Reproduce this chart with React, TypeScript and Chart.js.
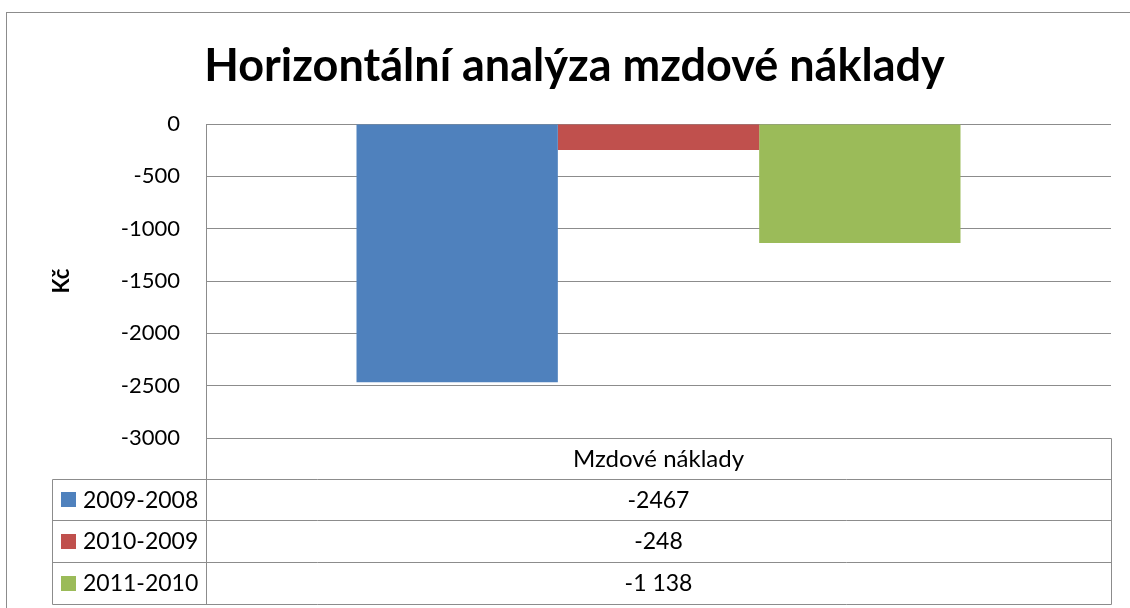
import React, { useEffect, useRef } from 'react';
import { Chart, registerables } from 'chart.js';

Chart.register(...registerables);

const categories = ['Mzdové náklady'];
const seriesNames = ['2009-2008', '2010-2009', '2011-2010'];
const seriesValues = [-2467, -248, -1138];
const tableLabels = ['-2467', '-248', '-1 138'];
const seriesColors = ['#4F81BD', '#C0504D', '#9BBB59'];
const yMin = -3000;
const yMax = 0;
const yStep = 500;
const chartTitle = 'Horizontální analýza mzdové náklady';
const yTitle = 'Kč';

const FONT = 'Lato';
const LINE = '#8c8c8c';
const PAD_LEFT = 38;
const PLOT_LEFT = 206;

const tablePlugin = {
  id: 'dataTable',
  beforeDraw(chart: any) {
    const ctx = chart.ctx;
    ctx.save();
    ctx.strokeStyle = LINE;
    ctx.lineWidth = 1;
    ctx.strokeRect(6.5, 12.5, chart.width + 100, chart.height + 100);
    ctx.restore();
  },
  afterDraw(chart: any) {
    const { ctx, chartArea } = chart;
    const xs = chart.scales.x;
    const left = Math.round(chartArea.left) + 0.5;
    const right = Math.round(chartArea.right) + 0.5;
    const top = Math.round(chartArea.bottom) + 0.5;
    const headerH = 40;
    const rowH = 41.7;
    const legendLeft = 52.5;
    const rowsTop = top + headerH;
    const bottom = Math.round(rowsTop + rowH * seriesNames.length) + 0.5;
    ctx.save();
    ctx.strokeStyle = LINE;
    ctx.lineWidth = 1;
    ctx.beginPath();
    ctx.moveTo(left, top);
    ctx.lineTo(left, bottom);
    ctx.moveTo(right, top);
    ctx.lineTo(right, bottom);
    ctx.moveTo(left, top);
    ctx.lineTo(right, top);
    ctx.moveTo(legendLeft, Math.round(rowsTop) + 0.5);
    ctx.lineTo(legendLeft, bottom);
    for (let i = 0; i <= seriesNames.length; i++) {
      const y = Math.round(rowsTop + rowH * i) + 0.5;
      ctx.moveTo(legendLeft, y);
      ctx.lineTo(right, y);
    }
    ctx.stroke();

    ctx.fillStyle = '#000';
    ctx.textBaseline = 'middle';
    ctx.textAlign = 'center';
    const cx = xs.getPixelForValue(0);
    ctx.font = `24px ${FONT}`;
    ctx.fillText(categories[0], cx, top + headerH / 2 + 1);
    ctx.font = `23px ${FONT}`;
    for (let i = 0; i < seriesNames.length; i++) {
      const cy = rowsTop + rowH * i + rowH / 2 + 1;
      ctx.textAlign = 'center';
      ctx.fillStyle = '#000';
      ctx.fillText(tableLabels[i], cx, cy);
      ctx.fillStyle = seriesColors[i];
      ctx.fillRect(61, Math.round(cy - 8), 15, 15);
      ctx.fillStyle = '#000';
      ctx.textAlign = 'left';
      ctx.fillText(seriesNames[i], 83, cy);
    }
    ctx.restore();
  },
};

export default function App() {
  const ref = useRef<HTMLCanvasElement>(null);
  useEffect(() => {
    if (!ref.current) return;
    const chart = new Chart(ref.current, {
      type: 'bar',
      data: {
        labels: categories,
        datasets: seriesNames.map((name, i) => ({
          label: name,
          data: [seriesValues[i]],
          backgroundColor: seriesColors[i],
          borderWidth: 0,
          categoryPercentage: 0.6674,
          barPercentage: 1,
        })),
      },
      options: {
        responsive: false,
        animation: false,
        devicePixelRatio: 1,
        layout: { padding: { left: PAD_LEFT, right: 19, top: 0, bottom: 170 } },
        plugins: {
          legend: { display: false },
          tooltip: { enabled: false },
          title: {
            display: true,
            text: chartTitle,
            color: '#000',
            font: { family: FONT, size: 45, weight: 'bold' },
            padding: { top: 39, bottom: 31 },
          },
        },
        scales: {
          x: { display: false },
          y: {
            min: yMin,
            max: yMax,
            afterFit(scale: any) {
              scale.width = PLOT_LEFT - PAD_LEFT;
            },
            ticks: {
              stepSize: yStep,
              color: '#000',
              padding: 26,
              font: { family: FONT, size: 22 },
              callback: (v: any) => String(v),
            },
            grid: { color: LINE, drawTicks: false },
            border: { display: true, color: LINE },
            title: {
              display: true,
              text: yTitle,
              color: '#000',
              font: { family: FONT, size: 22, weight: 'bold' },
              padding: { top: 11, bottom: 0 },
            },
          },
        },
      },
      plugins: [tablePlugin],
    });
    return () => chart.destroy();
  }, []);
  return (
    <div style={{ position: 'absolute', left: 0, top: 0, width: 1130, height: 608 }}>
      <canvas ref={ref} width={1130} height={608} />
    </div>
  );
}
